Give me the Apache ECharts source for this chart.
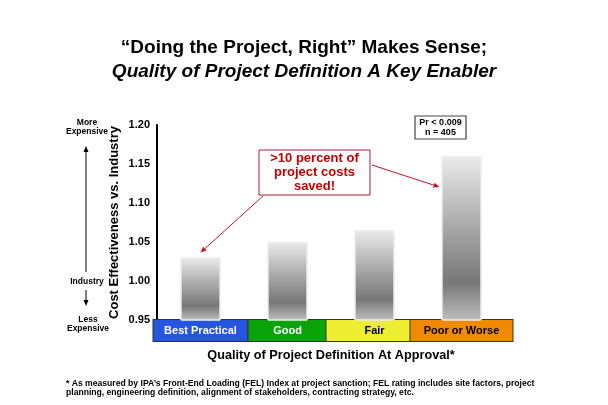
<!DOCTYPE html>
<html>
<head>
<meta charset="utf-8">
<script src="https://cdn.jsdelivr.net/npm/echarts@6/dist/echarts.min.js"></script>
<style>html,body{margin:0;padding:0;background:#fff;}#c{width:608px;height:405px;}</style>
</head>
<body>
<div id="c"></div>
<script>
var categories = ['Best Practical', 'Good', 'Fair', 'Poor or Worse'];
var values = [1.03, 1.05, 1.065, 1.16];
var yTicks = [0.95, 1.00, 1.05, 1.10, 1.15, 1.20];
var boxColors = ['#2456e0', '#0aa40a', '#eeee30', '#f08a00'];
var boxText = ['#ffffff', '#ffffff', '#000000', '#000000'];
var boxWidths = [94, 78, 96, 102];

var F = 'Liberation Sans, Arial, sans-serif';
var chart = echarts.init(document.getElementById('c'));

var rich = {};
categories.forEach(function (c, i) {
  rich['b' + i] = {
    width: boxWidths[i], height: 21, lineHeight: 21, align: 'center',
    backgroundColor: boxColors[i], borderColor: '#333', borderWidth: 1,
    color: boxText[i], fontWeight: 'bold', fontSize: 11, fontFamily: F
  };
});

chart.setOption({
  animation: false,
  backgroundColor: '#fff',
  title: {
    left: 'center', top: 33, itemGap: 5,
    text: '\u201cDoing the Project, Right\u201d Makes Sense;',
    subtext: 'Quality of Project Definition A Key Enabler',
    textStyle: { fontFamily: F, fontWeight: 'bold', fontSize: 19, color: '#000' },
    subtextStyle: { fontFamily: F, fontWeight: 'bold', fontStyle: 'italic', fontSize: 19, color: '#000' }
  },
  grid: { left: 157, right: 103, top: 125, bottom: 85 },
  xAxis: {
    type: 'category', data: categories,
    axisLine: { show: false }, axisTick: { show: false },
    axisLabel: {
      margin: 0, interval: 0,
      formatter: function (v, i) { return '{b' + i + '|' + v + '}'; },
      rich: rich
    },
    name: 'Quality of Project Definition At Approval*',
    nameLocation: 'middle', nameGap: 29, nameMoveOverlap: false,
    nameTextStyle: { fontFamily: F, fontWeight: 'bold', fontSize: 12.7, color: '#000' }
  },
  yAxis: {
    type: 'value', min: yTicks[0], max: yTicks[yTicks.length - 1], interval: 0.05,
    axisLine: { show: true, lineStyle: { color: '#000', width: 2 } },
    axisTick: { show: false }, splitLine: { show: false },
    axisLabel: { formatter: function (v) { return v.toFixed(2); }, fontFamily: F, fontWeight: 'bold', fontSize: 11, color: '#000', margin: 7 },
    name: 'Cost Effectiveness vs. Industry', nameLocation: 'middle', nameGap: 36, nameMoveOverlap: false,
    nameTextStyle: { fontFamily: F, fontWeight: 'bold', fontSize: 13, color: '#000' }
  },
  series: [{
    type: 'bar', data: values, barWidth: 40,
    itemStyle: {
      borderColor: '#ececec', borderWidth: 1,
      color: new echarts.graphic.LinearGradient(0, 0, 0, 1, [
        { offset: 0, color: '#ebebeb' },
        { offset: 0.5, color: '#9e9e9e' },
        { offset: 0.77, color: '#777777' },
        { offset: 1, color: '#bfbfbf' }
      ])
    }
  }]
});

function arrow(x1, y1, x2, y2, color) {
  var a = Math.atan2(y2 - y1, x2 - x1), L = 6, W = 2.5;
  var bx = x2 - L * Math.cos(a), by = y2 - L * Math.sin(a);
  return [
    { type: 'line', shape: { x1: x1, y1: y1, x2: bx, y2: by }, style: { stroke: color, lineWidth: 1 } },
    { type: 'polygon', shape: { points: [[x2, y2], [bx + W * Math.sin(a), by - W * Math.cos(a)], [bx - W * Math.sin(a), by + W * Math.cos(a)]] }, style: { fill: color } }
  ];
}

var p1 = chart.convertToPixel({ seriesIndex: 0 }, [0, values[0]]);
var p4 = chart.convertToPixel({ seriesIndex: 0 }, [3, values[3]]);
var pInd = chart.convertToPixel({ yAxisIndex: 0 }, 1.0);
var red = '#c8102e';
var small = { fontFamily: F, fontSize: 8.5, fontWeight: 'bold', fill: '#000', align: 'center', verticalAlign: 'middle', lineHeight: 9.5 };
var g = [];
g.push({ type: 'text', x: 87, y: 127, style: Object.assign({ text: 'More\nExpensive' }, small) });
g.push({ type: 'text', x: 87, y: pInd + 1, style: Object.assign({ text: 'Industry' }, small) });
g.push({ type: 'text', x: 88, y: 324, style: Object.assign({ text: 'Less\nExpensive' }, small) });
g = g.concat(arrow(86, pInd - 9, 86, 146, '#000'));
g = g.concat(arrow(86, pInd + 9, 86, 306, '#000'));
g.push({ type: 'rect', shape: { x: 415, y: 116, width: 51, height: 23 }, style: { fill: '#fff', stroke: '#444', lineWidth: 1.2 } });
g.push({ type: 'text', x: 440.5, y: 127.5, style: { text: 'Pr < 0.009\nn = 405', fontFamily: F, fontSize: 9, fontWeight: 'bold', fill: '#000', align: 'center', verticalAlign: 'middle', lineHeight: 10 } });
g.push({ type: 'rect', shape: { x: 259, y: 150, width: 111, height: 45 }, style: { fill: '#fff', stroke: '#a0203a', lineWidth: 1 } });
g.push({ type: 'text', x: 314.5, y: 172.5, style: { text: '>10 percent of\nproject costs\nsaved!', fontFamily: F, fontSize: 13, fontWeight: 'bold', fill: '#c00000', align: 'center', verticalAlign: 'middle', lineHeight: 14 } });
g = g.concat(arrow(263, 196, p1[0], p1[1] - 5, red));
g = g.concat(arrow(372, 165, p4[0] - 22, 187, red));
g.push({ type: 'text', left: 66, top: 379, style: { text: '* As measured by IPA\u2019s Front-End Loading (FEL) Index at project sanction; FEL rating includes site factors, project\nplanning, engineering definition, alignment of stakeholders, contracting strategy, etc.', fontFamily: F, fontSize: 8.6, fontWeight: 'bold', fill: '#000', lineHeight: 9 } });
chart.setOption({ graphic: g });
</script>
</body>
</html>
